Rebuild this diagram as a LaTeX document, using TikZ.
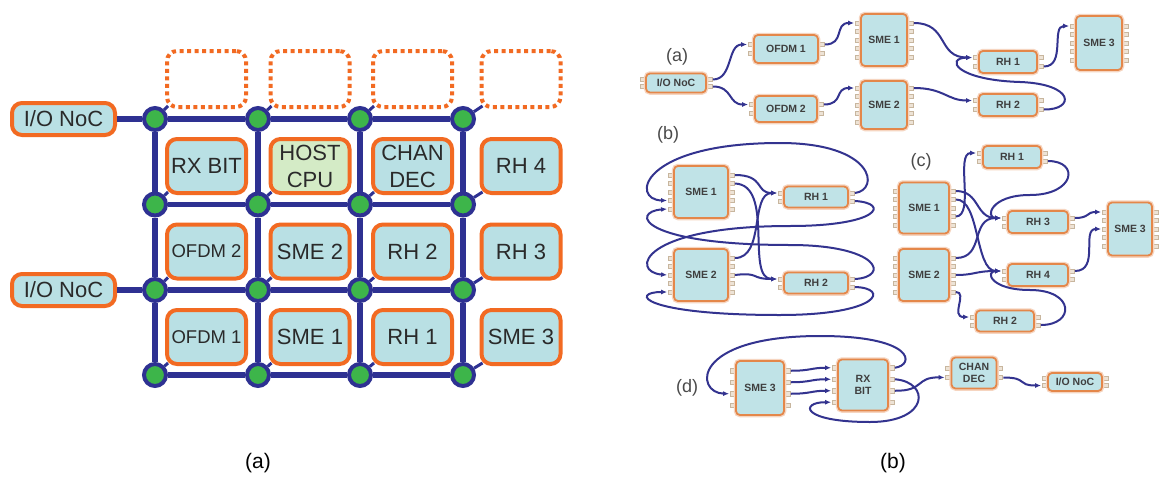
\documentclass[tikz,border=0pt]{standalone}
\usepackage{fontspec}
\setmainfont{Liberation Sans}
\usetikzlibrary{arrows.meta,calc}

\definecolor{netblue}{HTML}{2E3192}
\definecolor{nodegreen}{HTML}{3DB54A}
\definecolor{tileorange}{HTML}{F26A22}
\definecolor{tilecyan}{HTML}{B9E0E4}
\definecolor{cpugreen}{HTML}{D4EBC6}
\definecolor{chiporange}{HTML}{E4874A}
\definecolor{chipcyan}{HTML}{C0E3E7}
\definecolor{pinfill}{HTML}{EDE3D6}
\definecolor{pindraw}{HTML}{C8B69E}
\definecolor{flowblue}{HTML}{33338F}
\definecolor{txt}{HTML}{2A2A2A}

\tikzset{
  tile/.style={draw=tileorange, line width=4pt, rounded corners=10pt, fill=tilecyan,
    minimum width=79pt, minimum height=54pt, inner sep=0pt, align=center, text=txt,
    font=\fontsize{22}{27}\selectfont},
  ghost/.style={draw=tileorange, line width=4pt, rounded corners=10pt,
    dash pattern=on 4pt off 3.5pt, minimum width=79pt, minimum height=56pt, inner sep=0pt},
  router/.style={circle, draw=netblue, line width=4pt, fill=nodegreen,
    minimum size=22pt, inner sep=0pt},
  link/.style={draw=netblue, line width=5.5pt},
  stub/.style={draw=netblue, line width=3pt},
  chip/.style={draw=chiporange, line width=1.8pt, rounded corners=4pt, fill=chipcyan,
    preaction={draw=chiporange!35, line width=4.5pt},
    inner sep=0pt, align=center, text=txt!90, font=\fontsize{10.5}{11.5}\selectfont\bfseries},
  pin/.style={draw=pindraw, fill=pinfill, line width=0.5pt},
  flow/.style={draw=flowblue, line width=2pt, -{Latex[length=6pt,width=5pt]}},
  tag/.style={text=txt!85, font=\fontsize{18}{20}\selectfont},
  figlabel/.style={text=black, font=\fontsize{21}{24}\selectfont}
}

% chip with pins: name, x, y, width, height, label, pins per side, pin pitch
\newcommand\mkchip[8]{%
  \foreach \k in {1,...,#7}{%
    \pgfmathsetmacro\dy{(\k-(#7+1)/2)*#8}%
    \draw[pin] ($(#2,#3)+(-#4/2-6,\dy-2.2)$) rectangle ++(7,4.4);
    \draw[pin] ($(#2,#3)+(#4/2+6,\dy-2.2)$) rectangle ++(-7,4.4);
  }%
  \node[chip, minimum width=#4, minimum height=#5] (#1) at (#2,#3) {#6};
  \foreach \k in {1,...,#7}{%
    \pgfmathsetmacro\dy{(\k-(#7+1)/2)*#8}%
    \coordinate (#1-L\k) at ($(#1.west)+(-6,\dy)$);
    \coordinate (#1-R\k) at ($(#1.east)+(6,\dy)$);
  }%
}

\begin{document}
\begin{tikzpicture}[x=1pt,y=-1pt]
\fill[white] (0,0) rectangle (1159,479);
\useasboundingbox (0,0) rectangle (1159,479);

% ---------- mesh of tiles ----------
\foreach \i/\x in {0/206.5,1/310,2/412.5,3/521}
  \node[ghost] (T\i0) at (\x,79) {};

\node[tile] (T01) at (206.5,166) {RX BIT};
\node[tile, fill=cpugreen] (T11) at (310,166) {HOST\\CPU};
\node[tile] (T21) at (412.5,166) {CHAN\\DEC};
\node[tile] (T31) at (521,166) {RH 4};

\node[tile, font=\fontsize{18.5}{22}\selectfont] (T02) at (206.5,251.5) {OFDM 2};
\node[tile] (T12) at (310,251.5) {SME 2};
\node[tile] (T22) at (412.5,251.5) {RH 2};
\node[tile] (T32) at (521,251.5) {RH 3};

\node[tile, font=\fontsize{18.5}{22}\selectfont] (T03) at (206.5,337) {OFDM 1};
\node[tile] (T13) at (310,337) {SME 1};
\node[tile] (T23) at (412.5,337) {RH 1};
\node[tile] (T33) at (521,337) {SME 3};

\node[tile, minimum width=103pt, minimum height=32pt] (IO0) at (63.5,119) {I/O NoC};
\node[tile, minimum width=103pt, minimum height=32pt] (IO1) at (63.5,290) {I/O NoC};

% routers
\foreach \i/\x in {0/155,1/258,2/360,3/463}
  \foreach \j/\y in {0/119,1/204.5,2/290,3/375}
    \node[router] (r\i\j) at (\x,\y) {};

% links
\foreach \j in {0,...,3}
  \draw[link] (r0\j) -- (r1\j) -- (r2\j) -- (r3\j);
\foreach \i in {0,...,3}
  \draw[link] (r\i0) -- (r\i1) -- (r\i2) -- (r\i3);
\draw[link] (IO0) -- (r00);
\draw[link] (IO1) -- (r02);

% router-to-tile ports
\foreach \i in {0,...,3}
  \foreach \j in {0,...,3}
    \draw[stub] (r\i\j) -- ($(T\i\j.south west)+(3,-3)$);

% ---------- mapping (a) ----------
\node[tag] (la) at (677,57) {(a)};
\mkchip{aIO}{676}{83}{60}{19}{I/O NoC}{2}{7}
\mkchip{aO1}{786}{49}{64}{28}{OFDM 1}{2}{9}
\mkchip{aO2}{786}{109}{62}{26}{OFDM 2}{2}{9}
\mkchip{aS1}{884}{40}{46}{52}{SME 1}{5}{8.5}
\mkchip{aS2}{884}{105}{46}{48}{SME 2}{5}{8.5}
\mkchip{aR1}{1008}{62}{58}{22}{RH 1}{2}{9}
\mkchip{aR2}{1008}{105}{58}{22}{RH 2}{2}{9}
\mkchip{aS3}{1099}{43}{46}{54}{SME 3}{5}{8.5}

\draw[flow] (aIO-R1) .. controls +(20,0) and +(-20,0) .. (aO1-L1);
\draw[flow] (aIO-R2) .. controls +(20,0) and +(-20,0) .. (aO2-L1);
\draw[flow] (aO1-R1) .. controls +(20,0) and +(-20,0) .. (aS1-L1);
\draw[flow] (aO2-R1) .. controls +(20,0) and +(-20,0) .. (aS2-L1);
\draw[flow] (aS1-R1) .. controls +(35,0) and +(-35,0) .. (aR1-L1);
\draw[flow] (aS2-R1) .. controls +(30,0) and +(-25,0) .. (aR2-L1);
\draw[flow] (aR1-R2) .. controls +(22,0) and +(-18,0) .. (aS3-L1);
\draw[flow] (aR2-R2) .. controls (1075,110) and (1075,84) .. (1020,82)
  .. controls (955,80) and (945,58) .. (aR1-L1);

% ---------- mapping (b) ----------
\node[tag] (lb) at (668,135) {(b)};
\mkchip{bS1}{701}{192}{54}{52}{SME 1}{5}{8.5}
\mkchip{bS2}{701}{275}{54}{52}{SME 2}{5}{8.5}
\mkchip{bR1}{816}{197}{64}{21}{RH 1}{2}{8}
\mkchip{bR2}{816}{283}{64}{21}{RH 2}{2}{8}

\draw[flow] (bS1-R1) .. controls (765,175) and (755,193) .. (bR1-L1);
\draw[flow] (bS1-R2) .. controls (775,185) and (745,279) .. (bR2-L1);
\draw[flow] (bS2-R1) .. controls (765,258) and (750,193) .. (bR1-L1);
\draw[flow] (bS2-R3) .. controls (760,272) and (750,279) .. (bR2-L1);
\draw[flow] (bR1-R1) .. controls (880,190) and (875,143) .. (780,143)
  .. controls (640,143) and (630,200) .. (bS1-L4);
\draw[flow] (bR1-R2) .. controls (890,203) and (880,226) .. (790,226)
  .. controls (640,226) and (630,272) .. (bS2-L3);
\draw[flow] (bR2-R1) .. controls (890,277) and (880,245) .. (790,245)
  .. controls (640,245) and (630,212) .. (bS1-L5);
\draw[flow] (bR2-R2) .. controls (890,288) and (880,315) .. (780,315)
  .. controls (640,315) and (630,292) .. (bS2-L5);

% ---------- mapping (c) ----------
\node[tag] (lc) at (921,162) {(c)};
\mkchip{cS1}{924}{208}{50}{51}{SME 1}{5}{8.5}
\mkchip{cS2}{924}{275}{50}{52}{SME 2}{5}{8.5}
\mkchip{cR1}{1012}{157}{58}{22}{RH 1}{2}{8}
\mkchip{cR3}{1038}{222}{60}{22}{RH 3}{2}{8}
\mkchip{cR4}{1038}{275}{60}{22}{RH 4}{2}{8}
\mkchip{cR2}{1005}{321}{58}{21}{RH 2}{2}{8}
\mkchip{cS3}{1130}{229}{44}{53}{SME 3}{5}{8.5}

\draw[flow] (cS1-R4) .. controls (975,216) and (955,153) .. (cR1-L1);
\draw[flow] (cS1-R1) .. controls (980,191) and (975,218) .. (cR3-L1);
\draw[flow] (cS1-R2) .. controls (980,199) and (975,271) .. (cR4-L1);
\draw[flow] (cS2-R1) .. controls (985,258) and (970,218) .. (cR3-L1);
\draw[flow] (cS2-R3) .. controls (975,275) and (975,271) .. (cR4-L1);
\draw[flow] (cS2-R5) .. controls (968,292) and (950,317) .. (cR2-L1);
\draw[flow] (cR1-R2) .. controls (1080,161) and (1075,195) .. (1030,195)
  .. controls (990,195) and (985,218) .. (cR3-L1);
\draw[flow] (cR2-R2) .. controls (1075,325) and (1075,290) .. (1030,290)
  .. controls (990,290) and (985,271) .. (cR4-L1);
\draw[flow] (cR3-R1) .. controls +(15,0) and +(-15,0) .. (cS3-L1);
\draw[flow] (cR4-R1) .. controls +(25,0) and +(-20,0) .. (cS3-L3);

% ---------- mapping (d) ----------
\node[tag] (ld) at (687,388) {(d)};
\mkchip{dS3}{760}{388}{48}{54}{SME 3}{4}{11.5}
\mkchip{dRX}{863}{385}{50}{51}{RX\\BIT}{4}{11.5}
\mkchip{dCD}{974}{373}{45}{31}{CHAN\\DEC}{2}{9}
\mkchip{dIO}{1075}{382}{54}{18}{I/O NoC}{2}{7}

\foreach \k in {1,2,3}
  \draw[flow] (dS3-R\k) .. controls +(20,0) and +(-20,0) .. (dRX-L\k);
\draw[flow] (dRX-R2) .. controls (930,382) and (930,422) .. (870,422)
  .. controls (800,422) and (800,402) .. (dRX-L4);
\draw[flow] (dRX-R1) .. controls (915,365) and (915,336) .. (820,336)
  .. controls (690,336) and (695,393) .. (dS3-L3);
\draw[flow] (dRX-R3) .. controls (925,391) and (915,377) .. (dCD-L2);
\draw[flow] (dCD-R2) .. controls +(25,0) and +(-25,0) .. (dIO-L2);

% ---------- captions ----------
\node[figlabel] (capA) at (258,463) {(a)};
\node[figlabel] (capB) at (893,463) {(b)};
\end{tikzpicture}
\end{document}
